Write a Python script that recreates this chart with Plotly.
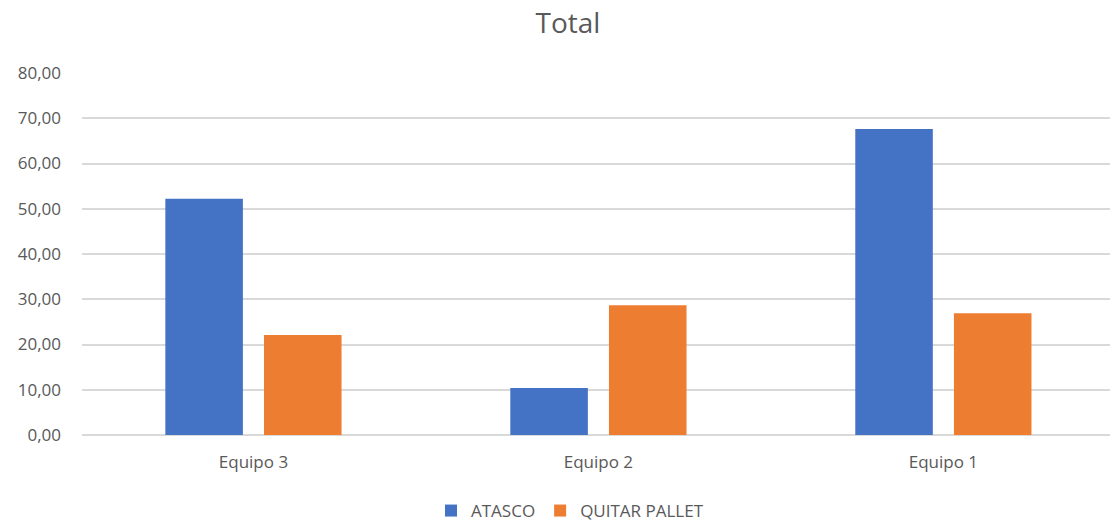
import plotly.graph_objects as go

categories = ["Equipo 3", "Equipo 2", "Equipo 1"]
atasco = [52.2, 10.4, 67.6]
quitar_pallet = [22.1, 28.7, 26.9]
series_names = ["ATASCO", "QUITAR PALLET"]

FONT = "Open Sans, Noto Sans, sans-serif"
GRAY = "#595959"

fig = go.Figure()
fig.add_trace(go.Bar(x=categories, y=atasco, name=series_names[0],
                     marker=dict(color="#4472C4", line=dict(width=0))))
fig.add_trace(go.Bar(x=categories, y=quitar_pallet, name=series_names[1],
                     marker=dict(color="#ED7D31", line=dict(width=0))))

fig.update_layout(
    width=1112, height=521,
    margin=dict(l=82, r=2, t=73, b=86),
    paper_bgcolor="white", plot_bgcolor="white",
    barmode="group", bargap=0.428, bargroupgap=0.214,
    separators=",.",
    font=dict(family=FONT, color=GRAY, size=18),
    title=dict(text="Total", x=568/1112, xref="container", xanchor="center",
               y=1 - 23/521, yref="container", yanchor="middle",
               font=dict(size=28, color=GRAY, family=FONT)),
    legend=dict(orientation="h", xref="container", x=570/1112, xanchor="center",
                yref="container", y=10/521, yanchor="middle",
                font=dict(size=17, color=GRAY, family=FONT)),
    showlegend=True,
)
fig.update_yaxes(range=[0, 80], dtick=10, tickformat=".2f",
                 showgrid=True, gridcolor="#D9D9D9", gridwidth=1.5,
                 zeroline=True, zerolinecolor="#D9D9D9", zerolinewidth=1.5,
                 showline=False, ticks="", ticklabelstandoff=20,
                 tickfont=dict(size=17, color=GRAY))
fig.update_xaxes(range=[-0.497, 2.483], showline=False, showgrid=False, ticks="",
                 ticklabelstandoff=15, tickfont=dict(size=17, color=GRAY))

fig.write_html("out.html")
